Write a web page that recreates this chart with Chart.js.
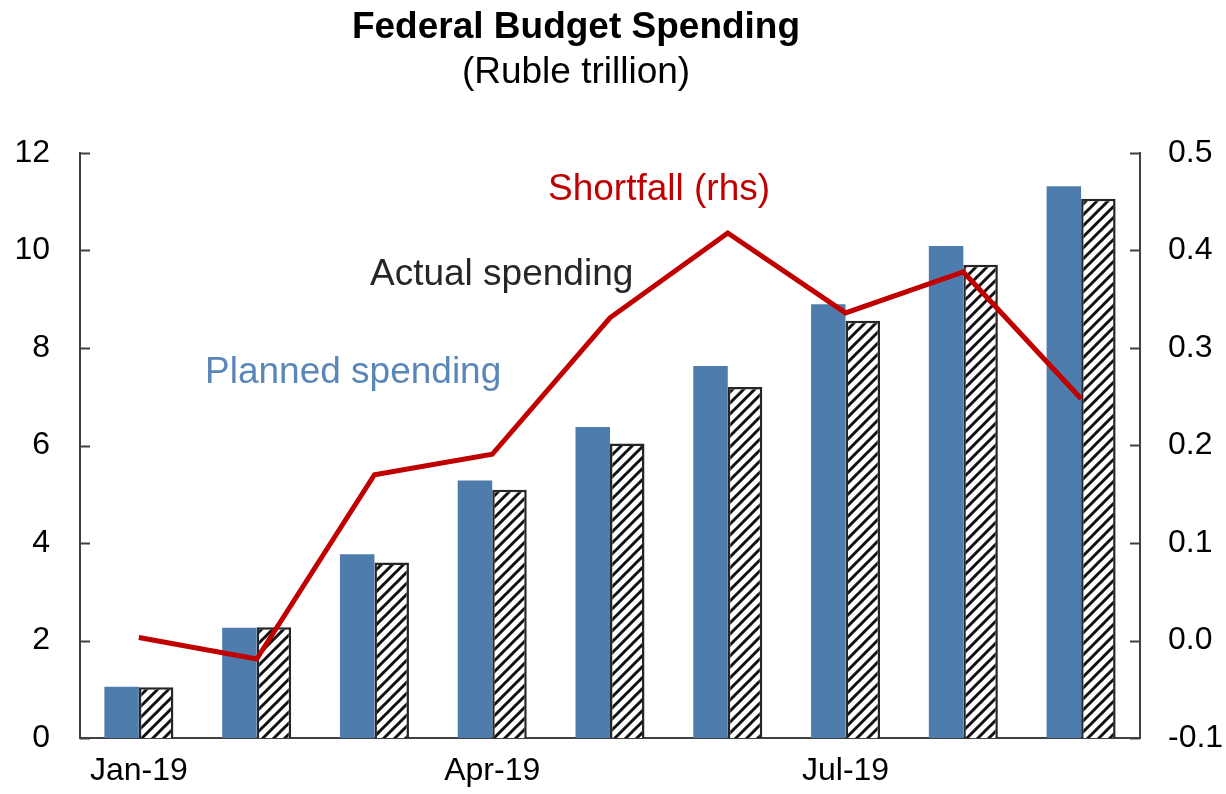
<!DOCTYPE html>
<html>
<head>
<meta charset="utf-8">
<script src="https://cdn.jsdelivr.net/npm/chart.js@4/dist/chart.umd.min.js"></script>
<style>
  html, body { margin: 0; padding: 0; background: #fff; }
  #wrap { width: 1226px; height: 794px; position: relative; }
</style>
</head>
<body>
<div id="wrap"><canvas id="budget"></canvas></div>
<script>
const months = ['Jan-19', 'Feb-19', 'Mar-19', 'Apr-19', 'May-19', 'Jun-19', 'Jul-19', 'Aug-19', 'Sep-19'];
const planned = [1.05, 2.26, 3.77, 5.28, 6.38, 7.63, 8.90, 10.09, 11.32];
const actual = [1.04, 2.27, 3.60, 5.09, 6.04, 7.20, 8.56, 9.71, 11.06];
const shortfall = [0.003, -0.019, 0.170, 0.191, 0.331, 0.418, 0.336, 0.378, 0.248];
const leftTicks = [0, 2, 4, 6, 8, 10, 12];
const rightTicks = [-0.1, 0.0, 0.1, 0.2, 0.3, 0.4, 0.5];

const FONT = "'Liberation Sans', Arial, sans-serif";
const AXIS = '#404040';

// diagonal hatch for the actual-spending bars
function hatch() {
    const c = document.createElement('canvas');
    const s = 11;
    c.width = s; c.height = s;
    const g = c.getContext('2d');
    g.fillStyle = '#fff';
    g.fillRect(0, 0, s, s);
    g.strokeStyle = '#111';
    g.lineWidth = 3;
    g.beginPath();
    for (let k = -1; k <= 1; k++) {
        g.moveTo(k * s - 1, s + 1);
        g.lineTo(k * s + s + 1, -1);
    }
    g.stroke();
    return g.createPattern(c, 'repeat');
}

// titles, in-chart labels and inward tick marks
const decor = {
    id: 'decor',
    afterDraw(chart) {
        const ctx = chart.ctx;
        ctx.save();
        ctx.textAlign = 'center';
        ctx.textBaseline = 'alphabetic';
        ctx.fillStyle = '#000';
        ctx.font = 'bold 37px ' + FONT;
        ctx.fillText('Federal Budget Spending', 576, 38);
        ctx.font = '37px ' + FONT;
        ctx.fillText('(Ruble trillion)', 576, 83);

        ctx.textAlign = 'left';
        ctx.fillStyle = '#C00000';
        ctx.fillText('Shortfall (rhs)', 548, 200);
        ctx.fillStyle = '#262626';
        ctx.fillText('Actual spending', 370, 285);
        ctx.fillStyle = '#5A87B8';
        ctx.fillText('Planned spending', 205, 383);

        ctx.strokeStyle = AXIS;
        ctx.lineWidth = 2;
        const y = chart.scales.y, y2 = chart.scales.y2;
        ctx.beginPath();
        leftTicks.forEach(v => {
            const p = Math.round(y.getPixelForValue(v)) + 0.5;
            ctx.moveTo(y.right, p);
            ctx.lineTo(y.right + 10, p);
        });
        rightTicks.forEach(v => {
            const p = Math.round(y2.getPixelForValue(v)) + 0.5;
            ctx.moveTo(y2.left, p);
            ctx.lineTo(y2.left - 10, p);
        });
        ctx.stroke();
        ctx.restore();
    }
};

const ctx = document.getElementById('budget').getContext('2d');
const chart = new Chart(ctx, {
    data: {
        labels: months,
        datasets: [
            {
                type: 'line',
                label: 'Shortfall (rhs)',
                data: shortfall,
                yAxisID: 'y2',
                borderColor: '#C00000',
                borderWidth: 5,
                pointRadius: 0,
                tension: 0,
                order: 0
            },
            {
                type: 'bar',
                label: 'Planned spending',
                data: planned,
                yAxisID: 'y',
                backgroundColor: '#4E7DAD',
                borderWidth: 0,
                categoryPercentage: 0.586,
                barPercentage: 1.0,
                order: 1
            },
            {
                type: 'bar',
                label: 'Actual spending',
                data: actual,
                yAxisID: 'y',
                backgroundColor: hatch(),
                borderColor: '#262626',
                borderWidth: 2.5,
                categoryPercentage: 0.586,
                barPercentage: 1.0,
                order: 1
            }
        ]
    },
    plugins: [decor],
    options: {
        responsive: true,
        maintainAspectRatio: false,
        animation: false,
        layout: { padding: { top: 153, left: 0, right: 0, bottom: 0 } },
        plugins: {
            legend: { display: false },
            title: { display: false },
            tooltip: { enabled: false }
        },
        scales: {
            x: {
                offset: true,
                grid: { display: false, drawTicks: false },
                border: { display: true, color: AXIS, width: 2 },
                afterFit: s => { s.height = 56; },
                ticks: {
                    autoSkip: false,
                    maxRotation: 0,
                    padding: 14,
                    color: '#000',
                    font: { family: FONT, size: 32 },
                    callback: function (v, i) { return i % 3 === 0 ? this.getLabelForValue(v) : ''; }
                }
            },
            y: {
                position: 'left',
                min: 0,
                max: 12,
                afterFit: s => { s.width = 80; },
                afterBuildTicks: s => { s.ticks = leftTicks.map(v => ({ value: v })); },
                grid: { display: false, drawTicks: false },
                border: { display: true, color: AXIS, width: 2 },
                ticks: {
                    padding: 30,
                    color: '#000',
                    font: { family: FONT, size: 32 }
                }
            },
            y2: {
                position: 'right',
                min: -0.1,
                max: 0.5,
                afterFit: s => { s.width = 86; },
                afterBuildTicks: s => { s.ticks = rightTicks.map(v => ({ value: v })); },
                grid: { display: false, drawTicks: false },
                border: { display: true, color: AXIS, width: 2 },
                ticks: {
                    padding: 28,
                    color: '#000',
                    font: { family: FONT, size: 32 },
                    callback: v => v.toFixed(1)
                }
            }
        }
    }
});
</script>
</body>
</html>
